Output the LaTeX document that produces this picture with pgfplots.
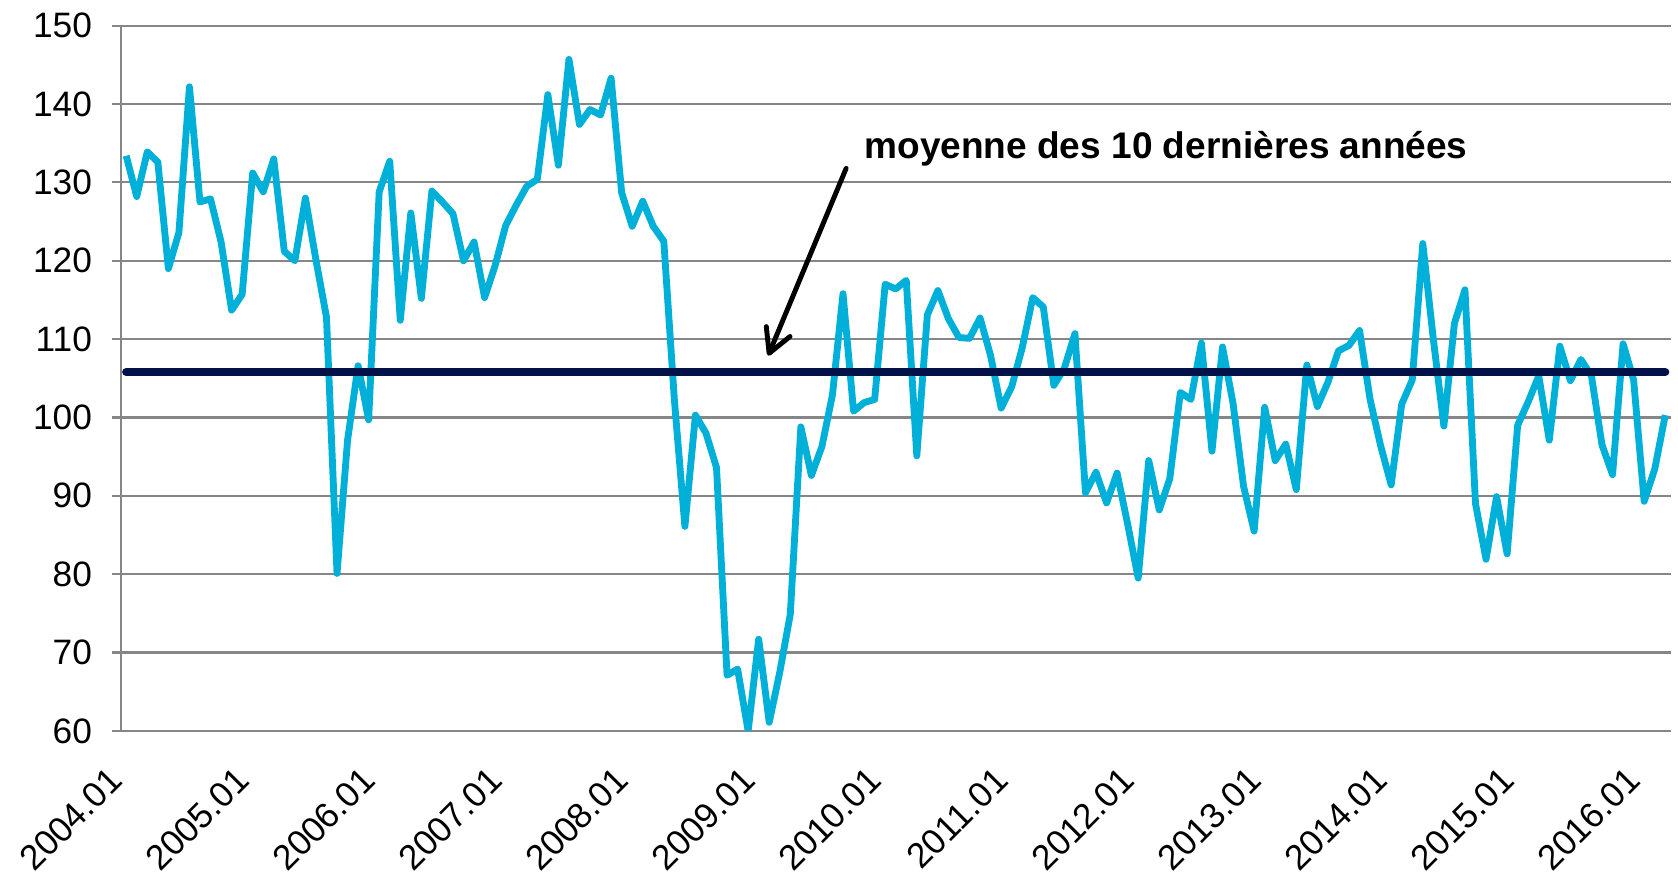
\documentclass[border=0pt]{standalone}
\usepackage{pgfplots}
\pgfplotsset{compat=1.18}
\usepackage{fontspec}
\setmainfont{Liberation Sans}
\usetikzlibrary{arrows.meta}

\definecolor{seriesblue}{RGB}{0,176,216}
\definecolor{meannavy}{RGB}{2,18,72}
\definecolor{gridgray}{RGB}{134,134,134}

% monthly index, 2004.01 = 0
\pgfplotstableread{
i v
0 133.4
1 128.2
2 133.9
3 132.6
4 119.0
5 123.6
6 142.2
7 127.5
8 127.9
9 122.4
10 113.7
11 115.7
12 131.2
13 128.8
14 133.0
15 121.2
16 120.0
17 128.0
18 120.1
19 112.8
20 80.1
21 97.1
22 106.6
23 99.7
24 128.8
25 132.7
26 112.4
27 126.1
28 115.2
29 128.9
30 127.5
31 126.0
32 120.0
33 122.4
34 115.3
35 119.4
36 124.5
37 127.1
38 129.5
39 130.4
40 141.2
41 132.2
42 145.7
43 137.4
44 139.3
45 138.6
46 143.3
47 128.7
48 124.4
49 127.6
50 124.4
51 122.5
52 102.3
53 86.1
54 100.3
55 98.0
56 93.6
57 67.1
58 67.9
59 60.0
60 71.7
61 61.1
62 67.5
63 74.9
64 98.8
65 92.6
66 96.3
67 102.9
68 115.8
69 100.8
70 101.9
71 102.3
72 117.0
73 116.4
74 117.5
75 95.1
76 113.1
77 116.2
78 112.6
79 110.2
80 110.1
81 112.7
82 107.9
83 101.2
84 103.9
85 108.9
86 115.3
87 114.1
88 104.1
89 106.3
90 110.7
91 90.4
92 93.0
93 89.1
94 92.9
95 86.4
96 79.5
97 94.5
98 88.2
99 92.2
100 103.2
101 102.3
102 109.5
103 95.7
104 109.0
105 101.8
106 91.2
107 85.5
108 101.3
109 94.5
110 96.6
111 90.8
112 106.7
113 101.4
114 104.5
115 108.5
116 109.2
117 111.1
118 102.3
119 96.4
120 91.4
121 101.7
122 104.8
123 122.2
124 110.0
125 98.9
126 112.0
127 116.3
128 89.0
129 81.9
130 89.9
131 82.6
132 99.0
133 102.0
134 105.3
135 97.1
136 109.1
137 104.7
138 107.4
139 105.3
140 96.5
141 92.7
142 109.4
143 104.8
144 89.3
145 93.4
146 100.3
}\indexdata

\begin{document}
\begin{tikzpicture}
\path[use as bounding box] (-56.5pt,-71pt) rectangle (727.5pt,341.5pt);
\begin{axis}[
  scale only axis,
  width=724pt,
  height=329.5pt,
  xmin=-0.5, xmax=146.5,
  ymin=60, ymax=150,
  ytick={60,70,...,150},
  xtick={0,12,...,144},
  xticklabels={2004.01,2005.01,2006.01,2007.01,2008.01,2009.01,2010.01,2011.01,2012.01,2013.01,2014.01,2015.01,2016.01},
  axis x line*=bottom,
  axis y line*=left,
  axis line style={gridgray, line width=1pt},
  ymajorgrids,
  grid style={gridgray, line width=1pt},
  tick align=outside,
  major tick length=4pt,
  ytick style={gridgray, line width=1pt},
  xtick style={draw=none},
  /pgf/number format/assume math mode=true,
  yticklabel style={font=\fontsize{16.5}{19}\selectfont, xshift=-6pt},
  xticklabel style={font=\fontsize{16.5}{19}\selectfont, xshift=-2.3pt, yshift=-13.6pt, rotate=45, anchor=east},
]
\addplot[seriesblue, line width=3.2pt, line join=round, mark=none] table[x=i, y=v] {\indexdata};
\addplot[meannavy, line width=3.8pt, line cap=round, mark=none] coordinates {(0,105.8) (146,105.8)};
\draw[black, line width=2.3pt, line cap=round, -{Straight Barb[length=11pt, width=12pt, round]}] (axis cs:68.3,131.8) -- (axis cs:60.9,107.9);
\node[anchor=base west, inner sep=0pt, font=\fontsize{17.3}{20}\selectfont\bfseries] at (axis cs:70.0,133.1) {moyenne des 10 dernières années};
\end{axis}
\end{tikzpicture}
\end{document}
